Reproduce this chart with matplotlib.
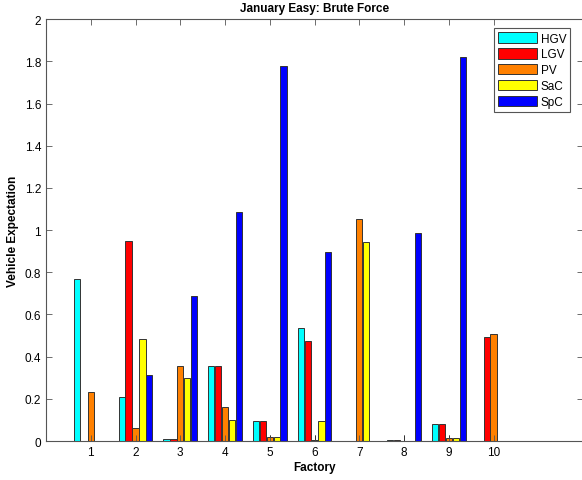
import numpy as np
import matplotlib
matplotlib.use("Agg")
import matplotlib.pyplot as plt

plt.rcParams['font.family'] = ['Liberation Sans', 'DejaVu Sans']

# Valeurs
factories = [1, 2, 3, 4, 5, 6, 7, 8, 9, 10]
series = ["HGV", "LGV", "PV", "SaC", "SpC"]
colors = ["#00ffff", "#ff0000", "#ff8000", "#ffff00", "#0000ff"]

hgv = [0.768, 0.207, 0.008, 0.354, 0.093, 0.534, 0.002, 0.005, 0.079, 0.002]
lgv = [0.002, 0.948, 0.008, 0.354, 0.093, 0.472, 0.002, 0.005, 0.079, 0.491]
pv = [0.231, 0.060, 0.354, 0.160, 0.019, 0.005, 1.055, 0.002, 0.013, 0.506]
sac = [0.002, 0.483, 0.297, 0.100, 0.019, 0.093, 0.942, 0.002, 0.013, 0.002]
spc = [0.002, 0.314, 0.686, 1.087, 1.777, 0.894, 0.002, 0.986, 1.82, 0.002]
# petites barres d'erreur sur PV
pv_err = [0.0, 0.0, 0.0, 0.0, 0.01, 0.023, 0.0, 0.028, 0.015, 0.0]

data = [hgv, lgv, pv, sac, spc]

fig = plt.figure(figsize=(5.82, 4.81), dpi=100)
ax = fig.add_axes([0.079, 0.081, 0.923, 0.877])

x = np.array(factories, dtype=float)
step = 0.154
width = 0.14
for i, (name, vals, c) in enumerate(zip(series, data, colors)):
    pos = x + (i - 2) * step
    ax.bar(pos, vals, width=width, color=c, edgecolor="#333333", linewidth=0.7, label=name)
    if name == "PV":
        err = np.array(pv_err)
        mask = err > 0
        ax.errorbar(pos[mask], np.array(vals)[mask], yerr=[np.zeros(mask.sum()), err[mask]],
                    fmt="none", ecolor="#333333", elinewidth=0.7, capsize=0)

ax.set_xlim(0, 12)
ax.set_ylim(0, 2)
ax.set_xticks(factories)
ax.set_yticks(np.arange(0, 2.01, 0.2))
ax.set_yticklabels(["0", "0.2", "0.4", "0.6", "0.8", "1", "1.2", "1.4", "1.6", "1.8", "2"])
ax.tick_params(direction="in", top=True, right=True, labelsize=8.5, length=4, width=0.6, color="#555555")
for s in ax.spines.values():
    s.set_linewidth(0.8)
    s.set_color("#555555")

ax.set_title("January Easy: Brute Force", fontsize=8.5, fontweight="bold", pad=6)
ax.set_xlabel("Factory", fontsize=8.5, fontweight="bold", labelpad=2)
ax.set_ylabel("Vehicle Expectation", fontsize=8.5, fontweight="bold", labelpad=4)

leg = ax.legend(loc="upper right", bbox_to_anchor=(0.976, 0.979), borderaxespad=0,
                fontsize=8.5, fancybox=False, handlelength=3.3, handleheight=1.0,
                borderpad=0.35, labelspacing=0.3, handletextpad=0.3, framealpha=1)
leg.get_frame().set_edgecolor("#555555")
leg.get_frame().set_linewidth(0.8)

fig.savefig("out.png", dpi=100)
